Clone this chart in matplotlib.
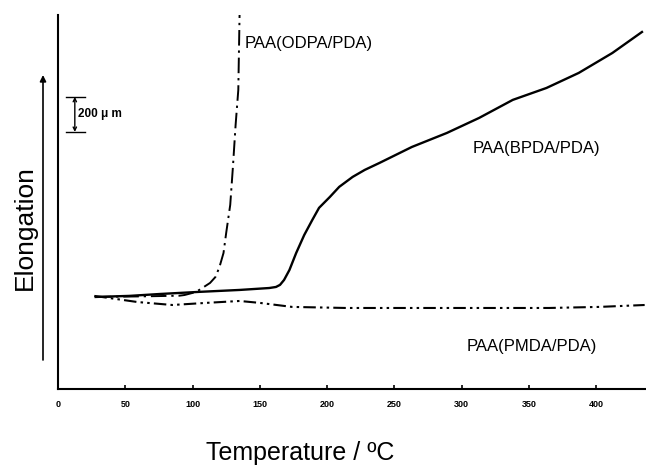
import matplotlib.pyplot as plt

plt.rcParams['font.family'] = ['Liberation Sans', 'DejaVu Sans']

# values: temperature (deg C) and elongation (um, 0 = start)
bpda_t = [28, 53, 76, 105, 135, 157, 162, 165, 168, 172, 177, 183, 189, 194,
          202, 209, 219, 228, 239, 263, 289, 313, 338, 363, 387, 412, 434]
bpda_e = [0, 6, 17, 29, 40, 51, 57, 69, 97, 154, 251, 354, 440, 509,
          571, 629, 686, 726, 766, 857, 937, 1023, 1126, 1194, 1280, 1394, 1514]

odpa_t = [28, 60, 90, 94, 100, 105, 113, 117, 120, 123, 125, 128, 130, 132, 134, 135]
odpa_e = [0, 3, 7, 11, 23, 40, 80, 114, 171, 251, 366, 526, 743, 983, 1183, 1640]

pmda_t = [27, 59, 85, 110, 135, 150, 174, 214, 291, 365, 402, 436]
pmda_e = [6, -29, -46, -34, -23, -34, -57, -63, -63, -63, -57, -46]

xticks = [0, 50, 100, 150, 200, 250, 300, 350, 400]

fig = plt.figure(figsize=(6.46, 4.68), dpi=100)
ax = fig.add_axes([58 / 646, 79 / 468, 588 / 646, 374 / 468])

ax.plot(bpda_t, bpda_e, color='black', lw=1.7, ls='-')
ax.plot(odpa_t, odpa_e, color='black', lw=1.4, ls=(0, (8, 2.5, 1.2, 2.5)))
ax.plot(pmda_t, pmda_e, color='black', lw=1.5, ls=(0, (6, 2, 1.2, 2, 1.2, 2)))

ax.set_xlim(0, 437)
ax.set_ylim(-526, 1611)
ax.set_xticks(xticks)
ax.set_xticklabels([str(t) for t in xticks], fontsize=6.5, fontweight='bold')
ax.tick_params(axis='x', direction='in', length=3, width=1.2, pad=8)
ax.set_yticks([])
for s in ['top', 'right']:
    ax.spines[s].set_visible(False)
ax.spines['left'].set_linewidth(1.5)
ax.spines['bottom'].set_linewidth(1.5)

# curve labels
ax.text(139, 1446, 'PAA(ODPA/PDA)', fontsize=12, va='center', ha='left')
ax.text(308, 851, 'PAA(BPDA/PDA)', fontsize=12, va='center', ha='left')
ax.text(304, -286, 'PAA(PMDA/PDA)', fontsize=12, va='center', ha='left')

# 200 um scale bar
ax.plot([6, 20], [1143, 1143], color='black', lw=1)
ax.plot([6, 20], [943, 943], color='black', lw=1)
ax.annotate('', xy=(12.5, 1143), xytext=(12.5, 943),
            arrowprops=dict(arrowstyle='<->', color='black', lw=1,
                            shrinkA=0, shrinkB=0, mutation_scale=6))
ax.text(15, 1046, '200 \u03bc m', fontsize=8.5, fontweight='bold', va='center', ha='left')

# elongation arrow outside the axes
ax.annotate('', xy=(43, 468 - 75), xytext=(43, 468 - 360),
            xycoords='figure pixels', textcoords='figure pixels',
            arrowprops=dict(arrowstyle='-|>', color='black', lw=1.2,
                            shrinkA=0, shrinkB=0, mutation_scale=9),
            annotation_clip=False)

fig.text(25 / 646, 1 - 228 / 468, 'Elongation', rotation=90, fontsize=19,
         ha='center', va='center')
fig.text(300 / 646, 1 - 453 / 468, 'Temperature / \u00baC', fontsize=18,
         ha='center', va='center')

fig.savefig('out.png', dpi=100)
